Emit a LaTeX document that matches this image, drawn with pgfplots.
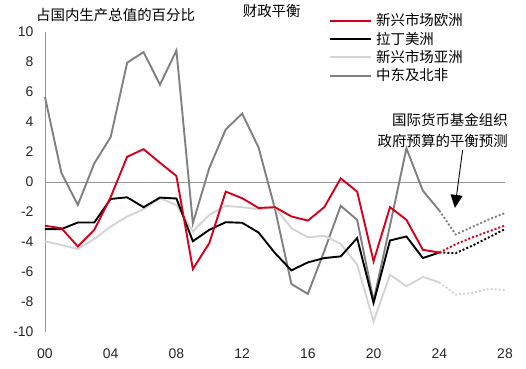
\documentclass[border=0pt]{standalone}
\usepackage{pgfplots}
\pgfplotsset{compat=1.18}
\usetikzlibrary{arrows.meta}
\usepackage{fontspec}
\setmainfont{Liberation Sans}
\newfontfamily\cjk{Noto Sans CJK SC}
\definecolor{eured}{RGB}{214,0,28}
\definecolor{dgrey}{RGB}{128,128,128}
\definecolor{lgrey}{RGB}{212,212,212}
\definecolor{agrey}{RGB}{150,150,150}
\begin{document}
\begin{tikzpicture}
\useasboundingbox (-45bp,-37bp) rectangle (481bp,332bp);
\begin{axis}[
  at={(0,0)}, anchor=south west,
  scale only axis, width=460bp, height=300bp,
  xmin=0, xmax=28, ymin=-10, ymax=10,
  axis lines=left,
  x axis line style={draw=none},
  y axis line style={agrey, line width=0.8bp, -},
  tick style={draw=none}, major tick length=0pt,
  xtick={0,4,...,28}, xticklabels={00,04,08,12,16,20,24,28},
  ytick={-10,-8,...,10},
  /pgf/number format/assume math mode=true,
  ticklabel style={font=\fontsize{14}{16}\selectfont, text=black!85},
  yticklabel style={xshift=-8bp},
  xticklabel style={yshift=-13bp},
  clip=false,
  legend style={draw=none, fill=none, at={(axis cs:17.29,11.3)}, anchor=north west,
    inner sep=0pt, row sep=2.6bp, column sep=3bp,
    font=\cjk\fontsize{14.5}{16}\selectfont, nodes={inner sep=1bp}},
  legend cell align=left,
  legend image code/.code={\draw[#1] (0bp,0bp) -- (41bp,0bp);},
]
% zero line
\addplot[agrey, line width=0.8bp, forget plot] coordinates {(0,0) (28,0)};
% Middle East & North Africa
\addplot[dgrey, line width=1.9bp, forget plot] coordinates {
(0,5.67) (1,0.6) (2,-1.53) (3,1.24) (4,3.0) (5,7.95) (6,8.66) (7,6.49) (8,8.77)
(9,-2.75) (10,0.93) (11,3.5) (12,4.56) (13,2.3) (14,-1.8) (15,-6.8) (16,-7.46)
(17,-4.6) (18,-1.59) (19,-2.52) (20,-7.9) (21,-2.9) (22,2.24) (23,-0.58) (24,-1.9)};
\addplot[dgrey, line width=1.9bp, dash pattern=on 2bp off 2bp, forget plot] coordinates {
(24,-1.9) (25,-3.5) (26,-3.0) (27,-2.5) (28,-2.07)};
% Emerging Asia
\addplot[lgrey, line width=1.9bp, forget plot] coordinates {
(0,-3.96) (1,-4.2) (2,-4.47) (3,-3.8) (4,-2.97) (5,-2.3) (6,-1.82) (7,-1.08) (8,-1.53)
(9,-3.3) (10,-2.19) (11,-1.59) (12,-1.68) (13,-1.82) (14,-1.68) (15,-3.08) (16,-3.68)
(17,-3.59) (18,-4.12) (19,-5.51) (20,-9.3) (21,-6.18) (22,-6.95) (23,-6.33) (24,-6.69)};
\addplot[lgrey, line width=1.9bp, dash pattern=on 2bp off 2bp, forget plot] coordinates {
(24,-6.69) (25,-7.51) (26,-7.4) (27,-7.13) (28,-7.2)};
% Latin America
\addplot[black, line width=1.9bp, forget plot] coordinates {
(0,-3.14) (1,-3.14) (2,-2.7) (3,-2.7) (4,-1.13) (5,-1.02) (6,-1.68) (7,-1.04) (8,-1.1)
(9,-3.95) (10,-3.19) (11,-2.68) (12,-2.72) (13,-3.37) (14,-4.74) (15,-5.89) (16,-5.36)
(17,-5.07) (18,-4.96) (19,-3.74) (20,-8.06) (21,-3.9) (22,-3.63) (23,-5.07) (24,-4.7)};
\addplot[black, line width=1.9bp, dash pattern=on 2bp off 2bp, forget plot] coordinates {
(24,-4.7) (25,-4.74) (26,-4.25) (27,-3.7) (28,-3.14)};
% Emerging Europe
\addplot[eured, line width=1.9bp, forget plot] coordinates {
(0,-2.92) (1,-3.08) (2,-4.3) (3,-3.19) (4,-1.0) (5,1.68) (6,2.19) (7,1.28) (8,0.4)
(9,-5.8) (10,-4.08) (11,-0.64) (12,-1.08) (13,-1.73) (14,-1.68) (15,-2.3) (16,-2.57)
(17,-1.68) (18,0.24) (19,-0.64) (20,-5.29) (21,-1.68) (22,-2.52) (23,-4.52) (24,-4.7)};
\addplot[eured, line width=1.9bp, dash pattern=on 2bp off 2bp, forget plot] coordinates {
(24,-4.7) (25,-4.15) (26,-3.7) (27,-3.3) (28,-2.9)};
\addlegendimage{eured, line width=1.9bp}
\addlegendentry{新兴市场欧洲}
\addlegendimage{black, line width=1.9bp}
\addlegendentry{拉丁美洲}
\addlegendimage{lgrey, line width=1.9bp}
\addlegendentry{新兴市场亚洲}
\addlegendimage{dgrey, line width=1.9bp}
\addlegendentry{中东及北非}
% titles and annotation
\node[anchor=center, font=\cjk\fontsize{14.5}{16}\selectfont] at (axis cs:13.8,11.43) {财政平衡};
\node[anchor=west, inner sep=0pt, font=\cjk\fontsize{14.5}{16}\selectfont] at (axis cs:-0.55,11.1) {占国内生产总值的百分比};
\node[anchor=east, inner sep=0pt, font=\cjk\fontsize{14.5}{16}\selectfont] at (axis cs:28.18,4.12) {国际货币基金组织};
\node[anchor=east, inner sep=0pt, font=\cjk\fontsize{14.5}{16}\selectfont] at (axis cs:28.18,2.72) {政府预算的平衡预测};
\draw[-{Triangle[length=13bp,width=12bp]}, line width=0.9bp] (axis cs:25.42,2.13) -- (axis cs:24.95,-1.73);
\end{axis}
\end{tikzpicture}
\end{document}
